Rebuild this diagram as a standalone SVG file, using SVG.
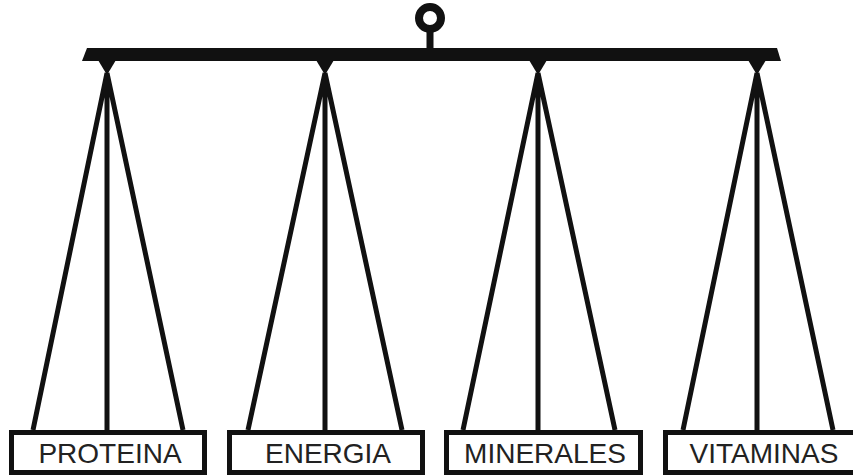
<svg xmlns="http://www.w3.org/2000/svg" width="853" height="476" viewBox="0 0 853 476">
<style>
.ln{stroke:#111;stroke-width:5;fill:none;stroke-linecap:butt}
.bx{fill:#fff;stroke:#111;stroke-width:5}
.tx{font-family:"Liberation Sans",Arial,sans-serif;font-size:28px;fill:#222;text-anchor:middle}
.blk{fill:#111}
</style>
<rect width="853" height="476" fill="#fff"/>
<g id="beam">
<circle cx="430" cy="18" r="11" fill="none" stroke="#111" stroke-width="8"/>
<rect x="426.5" y="28" width="7" height="22" class="blk"/>
<polygon class="blk" points="87,48 777,48 781,61 82,61"/>
<polygon class="blk" points="98,60 116,60 107,75"/>
<polygon class="blk" points="316,60 334,60 325,75"/>
<polygon class="blk" points="529,60 547,60 538,75"/>
<polygon class="blk" points="748,60 766,60 757,75"/>
</g>
<g id="connectors">
<path class="ln" d="M107,73 L33,430 M107,73 L107,430 M107,73 L183,430"/>
<path class="ln" d="M325,73 L248,430 M325,73 L325,430 M325,73 L402,430"/>
<path class="ln" d="M538,73 L463,430 M538,73 L538,430 M538,73 L615,430"/>
<path class="ln" d="M757,73 L683,430 M757,73 L757,430 M757,73 L833,430"/>
</g>
<g id="proteina">
<rect class="bx" x="11.5" y="432.5" width="193" height="40"/>
<text class="tx" x="110" y="463">PROTEINA</text>
</g>
<g id="energia">
<rect class="bx" x="229.5" y="432.5" width="193" height="40"/>
<text class="tx" x="328" y="463">ENERGIA</text>
</g>
<g id="minerales">
<rect class="bx" x="446.5" y="432.5" width="194" height="40"/>
<text class="tx" x="545" y="463">MINERALES</text>
</g>
<g id="vitaminas">
<rect class="bx" x="665.5" y="432.5" width="194" height="40"/>
<text class="tx" x="764" y="463">VITAMINAS</text>
</g>
</svg>
